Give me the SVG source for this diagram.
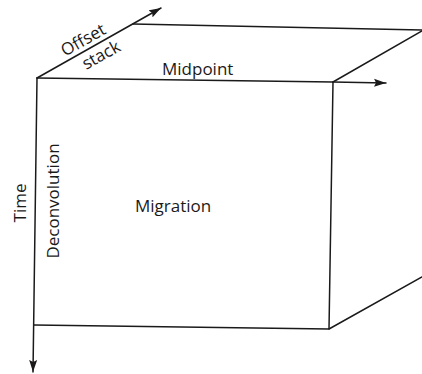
<svg xmlns="http://www.w3.org/2000/svg" width="422" height="374" viewBox="0 0 422 374">
<style>
.ln{fill:none;stroke:#1a1a1a;stroke-width:1.5;stroke-linecap:round;stroke-linejoin:round}
.t{font-family:"Open Sans","Noto Sans",sans-serif;font-size:17px;fill:#1a1a1a}
</style>
<defs>
<marker id="ah" markerUnits="userSpaceOnUse" markerWidth="13" markerHeight="9" refX="12" refY="4.5" orient="auto">
<path d="M0,0.5 L12,4.5 L0,8.5 L2,4.5 z" fill="#1a1a1a"/>
</marker>
</defs>
<rect width="422" height="374" fill="#fff"/>
<g id="cube">
<path class="ln" d="M37,78 L333,82 L329,329 L34,325"/>
<path class="ln" d="M133,24 L422,30"/>
<path class="ln" d="M333,82 L422,31"/>
<path class="ln" d="M329,329 L422,277"/>
</g>
<g id="connectors">
<path class="ln" d="M37,78 L33,372" marker-end="url(#ah)"/>
<path class="ln" d="M333,82 L386,83" marker-end="url(#ah)"/>
<path class="ln" d="M37,78 L161,8" marker-end="url(#ah)"/>
</g>
<g id="label-offset-stack">
<text class="t" text-anchor="middle" transform="translate(86,45) rotate(-29.4)">Offset</text>
<text class="t" text-anchor="middle" transform="translate(104,60) rotate(-29.4)">stack</text>
</g>
<g id="label-midpoint"><text class="t" x="162" y="75">Midpoint</text></g>
<g id="label-time"><text class="t" text-anchor="middle" transform="translate(26,203) rotate(-90)">Time</text></g>
<g id="label-deconvolution"><text class="t" text-anchor="middle" transform="translate(59,201) rotate(-90)">Deconvolution</text></g>
<g id="label-migration"><text class="t" x="135" y="212">Migration</text></g>
</svg>
